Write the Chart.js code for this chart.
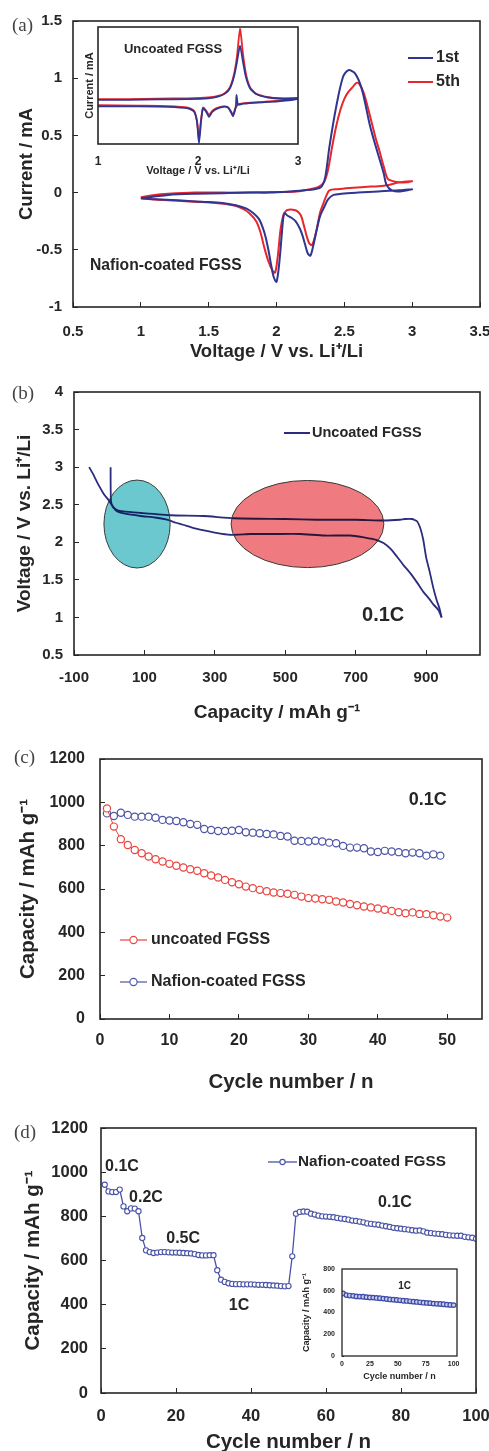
<!DOCTYPE html>
<html><head><meta charset="utf-8">
<script src="https://cdn.jsdelivr.net/npm/chart.js@4.4.0/dist/chart.umd.min.js"></script>
<style>
html,body{margin:0;padding:0;background:#fff;}
body{width:489px;height:1451px;position:relative;overflow:hidden;}
canvas{position:absolute;display:block;}
.lab{position:absolute;font-family:"Liberation Serif","DejaVu Serif",serif;font-size:19px;color:#444;line-height:20px;}
</style></head><body>
<canvas id="ca" width="489" height="365" style="left:0;top:0"></canvas>
<canvas id="caIn" width="232" height="160" style="left:78px;top:20px"></canvas>
<canvas id="cb" width="489" height="360" style="left:0;top:365px"></canvas>
<canvas id="cc" width="489" height="370" style="left:0;top:725px"></canvas>
<canvas id="cd" width="489" height="356" style="left:0;top:1095px"></canvas>
<canvas id="cdIn" width="170" height="122" style="left:300px;top:1262px"></canvas>
<div class="lab" style="left:12px;top:15px">(a)</div>
<div class="lab" style="left:12px;top:383px">(b)</div>
<div class="lab" style="left:14px;top:747px">(c)</div>
<div class="lab" style="left:14px;top:1122px">(d)</div>
<script>
// ===================== DATA =====================
// (a) Nafion-coated FGSS cyclic voltammetry, 1st and 5th cycle
const a1stV = [1.00,1.10,1.20,1.40,1.60,1.80,1.95,2.10,2.20,2.28,2.33,2.36,2.39,2.44,2.49,2.53,2.58,2.63,2.69,2.74,2.79,2.81,2.85,2.91,3.00,
               2.90,2.75,2.60,2.48,2.42,2.38,2.35,2.32,2.29,2.27,2.25,2.23,2.21,2.19,2.17,2.14,2.11,2.08,2.06,2.05,2.04,2.02,2.00,1.98,1.96,1.94,1.92,1.90,1.87,1.83,1.78,1.70,1.60,1.45,1.30,1.15,1.00];
const a1stI = [-0.05,-0.035,-0.02,-0.01,-0.005,0.0,0.0,0.01,0.02,0.03,0.05,0.14,0.40,0.75,1.01,1.07,1.04,0.90,0.58,0.37,0.17,0.07,0.02,0.01,0.03,
               0.02,0.01,0.0,-0.01,-0.02,-0.06,-0.13,-0.21,-0.36,-0.47,-0.55,-0.53,-0.45,-0.37,-0.31,-0.25,-0.22,-0.20,-0.18,-0.22,-0.35,-0.62,-0.78,-0.74,-0.63,-0.50,-0.39,-0.31,-0.23,-0.18,-0.14,-0.11,-0.09,-0.08,-0.07,-0.06,-0.05];
const a5thV = [1.00,1.10,1.20,1.40,1.60,1.80,2.00,2.15,2.25,2.31,2.35,2.38,2.41,2.44,2.47,2.50,2.53,2.56,2.59,2.61,2.64,2.67,2.70,2.73,2.76,2.79,2.82,2.86,2.91,2.96,3.00,
               2.91,2.79,2.65,2.54,2.45,2.39,2.37,2.35,2.32,2.30,2.28,2.26,2.24,2.22,2.20,2.18,2.15,2.12,2.09,2.07,2.05,2.03,2.01,1.99,1.97,1.94,1.91,1.88,1.85,1.80,1.75,1.68,1.55,1.40,1.25,1.10,1.00];
const a5thI = [-0.04,-0.02,-0.01,0.0,0.0,0.0,0.005,0.01,0.03,0.05,0.09,0.20,0.40,0.58,0.72,0.82,0.88,0.92,0.96,0.95,0.88,0.76,0.62,0.48,0.36,0.23,0.12,0.10,0.09,0.09,0.10,
               0.09,0.06,0.05,0.04,0.03,0.02,-0.02,-0.08,-0.18,-0.30,-0.40,-0.46,-0.44,-0.37,-0.28,-0.20,-0.16,-0.15,-0.15,-0.16,-0.20,-0.32,-0.55,-0.70,-0.68,-0.60,-0.48,-0.34,-0.25,-0.18,-0.14,-0.11,-0.09,-0.08,-0.07,-0.06,-0.05];
const aXTicks = [0.5,1,1.5,2,2.5,3,3.5];
const aYTicks = [-1,-0.5,0,0.5,1,1.5];
// (a) inset: uncoated FGSS (current in arbitrary units, no tick labels)
const aIn1stV = [1.0,1.3,1.6,1.9,2.1,2.2,2.27,2.32,2.36,2.39,2.42,2.45,2.48,2.52,2.58,2.7,2.85,3.0,
                 2.8,2.6,2.45,2.40,2.385,2.38,2.37,2.35,2.33,2.30,2.25,2.18,2.14,2.11,2.08,2.05,2.03,2.01,1.99,1.96,1.9,1.7,1.4,1.0];
const aIn1stI = [0.12,0.12,0.13,0.14,0.16,0.2,0.28,0.42,0.72,1.1,1.52,1.1,0.7,0.42,0.27,0.18,0.15,0.15,
                 0.08,0.05,0.02,0.0,0.25,0.0,-0.15,-0.30,-0.2,-0.08,-0.06,-0.12,-0.2,-0.32,-0.18,-0.1,-0.45,-1.0,-0.45,-0.18,-0.1,-0.06,-0.05,-0.05];
const aIn5thV = [1.0,1.3,1.6,1.9,2.1,2.2,2.27,2.32,2.36,2.39,2.42,2.45,2.48,2.52,2.58,2.7,2.85,3.0,
                 2.8,2.6,2.45,2.40,2.37,2.35,2.33,2.30,2.25,2.18,2.14,2.11,2.08,2.05,2.03,2.01,1.99,1.96,1.9,1.7,1.4,1.0];
const aIn5thI = [0.14,0.14,0.15,0.16,0.18,0.22,0.30,0.45,0.78,1.25,1.95,1.3,0.78,0.45,0.28,0.19,0.16,0.17,
                 0.1,0.06,0.03,0.0,-0.12,-0.27,-0.18,-0.07,-0.05,-0.1,-0.17,-0.27,-0.15,-0.08,-0.4,-0.88,-0.42,-0.16,-0.08,-0.04,-0.03,-0.02];
const aInXTicks = [1,2,3];

// (b) uncoated FGSS discharge / charge profile at 0.1C
const bDisCap = [-57,-45,-30,-15,0,12,23,45,89,130,164,190,212,240,269,300,343,400,470,542,610,684,720,741,760,779,800,817,835,855,875,892,910,921,935,944];
const bDisV   = [3.00,2.90,2.76,2.64,2.55,2.46,2.41,2.38,2.35,2.33,2.30,2.26,2.23,2.19,2.16,2.13,2.10,2.11,2.11,2.11,2.09,2.09,2.07,2.05,2.03,1.99,1.91,1.81,1.70,1.59,1.46,1.34,1.24,1.17,1.10,1.00];
const bChgCap = [944,938,930,920,911,900,892,884,874,860,840,826,779,700,589,500,353,269,175,90,40,22,10,5,4,4];
const bChgV   = [1.00,1.12,1.23,1.40,1.59,1.80,2.03,2.18,2.28,2.31,2.31,2.30,2.29,2.30,2.30,2.31,2.32,2.35,2.36,2.39,2.41,2.43,2.48,2.55,2.80,3.00];
const bXTicks = [-100,100,300,500,700,900];
const bYTicks = [0.5,1,1.5,2,2.5,3,3.5,4];
// highlighted plateau regions (ellipses): centre and half-axes in data units
const bEllCx = [79,563];
const bEllCy = [2.243,2.243];
const bEllRx = [94,217];
const bEllRy = [0.585,0.58];

// (c) cycling at 0.1C
const cCycU = [1,2,3,4,5,6,7,8,9,10,11,12,13,14,15,16,17,18,19,20,21,22,23,24,25,26,27,28,29,30,31,32,33,34,35,36,37,38,39,40,41,42,43,44,45,46,47,48,49,50];
const cUncoated = [972,888,830,803,780,765,750,737,727,716,707,699,691,684,673,662,653,642,631,622,611,604,596,590,584,581,578,573,565,558,556,553,550,542,538,531,525,519,515,510,504,499,493,488,492,485,484,479,473,468];
const cCycN = [1,2,3,4,5,6,7,8,9,10,11,12,13,14,15,16,17,18,19,20,21,22,23,24,25,26,27,28,29,30,31,32,33,34,35,36,37,38,39,40,41,42,43,44,45,46,47,48,49];
const cNafion = [949,937,952,942,934,934,934,929,919,916,914,908,900,896,877,872,868,868,869,872,862,860,857,854,852,845,842,823,822,819,823,819,814,811,799,791,791,788,773,771,776,773,770,765,768,765,754,760,754];
const cXTicks = [0,10,20,30,40,50];
const cYTicks = [0,200,400,600,800,1000,1200];

// (d) rate capability of Nafion-coated FGSS
const dCyc = [];
for (let i = 1; i <= 100; i++) dCyc.push(i);
const dNafion = [943,913,910,910,921,845,823,836,835,823,
                 702,646,638,634,636,638,638,637,636,636,635,634,633,632,629,625,623,623,624,624,
                 556,513,503,497,494,493,493,492,492,492,491,490,490,489,488,487,486,484,483,484,
                 619,812,820,822,821,812,808,803,800,799,798,796,793,790,788,785,781,779,776,773,
                 768,766,764,762,758,755,752,748,746,744,742,740,737,735,736,732,726,724,722,721,
                 719,716,714,713,712,712,707,705,703,698];
const dXTicks = [0,20,40,60,80,100];
const dYTicks = [0,200,400,600,800,1000,1200];
const dRateText = ['0.1C','0.2C','0.5C','1C','0.1C'];
const dRateX = [5.6,12,21.9,36.8,78.4];
const dRateY = [1023,883,697,394,860];
// (d) inset: long cycling at 1C
const dInCyc = [1,4,7,10,13,16,19,22,25,28,31,34,37,40,43,46,49,52,55,58,61,64,67,70,73,76,79,82,85,88,91,94,97,100];
const dInCap = [575,560,556,553,548,546,545,541,538,537,534,531,528,524,520,518,515,512,508,506,503,500,497,494,490,488,486,482,480,478,476,472,470,468];
const dInXTicks = [0,25,50,75,100];
const dInYTicks = [0,200,400,600,800];

// ===================== HELPERS =====================
const FONT = '"Liberation Sans", Arial, Helvetica, sans-serif';
const INK = '#262626';
Chart.defaults.font.family = FONT;
const zip = (xs, ys) => xs.map((v, i) => ({x: v, y: ys[i]}));

function axis(o) {
  return {
    type: 'linear', position: o.position, min: o.min, max: o.max,
    afterBuildTicks: s => { s.ticks = o.ticks.map(v => ({value: v})); },
    afterFit: s => {
      if (o.position === 'left') s.width = o.size; else s.height = o.size;
      s.paddingLeft = 0; s.paddingRight = 0; s.paddingTop = 0; s.paddingBottom = 0;
    },
    grid: {drawOnChartArea: false, drawTicks: o.tl !== 0, tickLength: o.tl, color: INK, lineWidth: 1},
    border: {display: false},
    ticks: {display: o.showTicks !== false, padding: o.pad, color: INK, autoSkip: false, maxRotation: 0,
            font: {family: FONT, size: o.tickSize, weight: 'bold'}, callback: v => String(v)},
    title: {display: true, text: o.title, color: INK,
            font: {family: FONT, size: o.titleSize, weight: 'bold', lineHeight: 1.2}, padding: o.titlePad}
  };
}

const framePlugin = {
  id: 'frame',
  beforeDatasetsDraw(chart, a, o) {
    if (!o.fill) return;
    const {ctx, chartArea: c} = chart;
    ctx.save(); ctx.fillStyle = o.fill; ctx.fillRect(c.left, c.top, c.right - c.left, c.bottom - c.top); ctx.restore();
  },
  afterDraw(chart, a, o) {
    const {ctx, chartArea: c} = chart;
    ctx.save(); ctx.strokeStyle = o.color || INK; ctx.lineWidth = o.width || 1.5;
    ctx.strokeRect(c.left, c.top, c.right - c.left, c.bottom - c.top); ctx.restore();
  }
};
const ellipsePlugin = {
  id: 'ellipses',
  afterDatasetsDraw(chart, a, o) {
    if (!o.cx) return;
    const {ctx, scales: {x, y}} = chart;
    o.cx.forEach((cx, i) => {
      const px = x.getPixelForValue(cx), py = y.getPixelForValue(o.cy[i]);
      const rx = Math.abs(x.getPixelForValue(cx + o.rx[i]) - px);
      const ry = Math.abs(y.getPixelForValue(o.cy[i] + o.ry[i]) - py);
      ctx.save();
      ctx.globalCompositeOperation = 'multiply';
      ctx.beginPath(); ctx.ellipse(px, py, rx, ry, 0, 0, Math.PI * 2);
      ctx.fillStyle = o.fills[i]; ctx.fill();
      ctx.globalCompositeOperation = 'source-over';
      ctx.lineWidth = 1; ctx.strokeStyle = '#3a3a3a'; ctx.stroke();
      ctx.restore();
    });
  }
};
const notesPlugin = {
  id: 'notes',
  afterDatasetsDraw(chart, a, o) {
    const {ctx, scales: {x, y}} = chart;
    (o.items || []).forEach(it => {
      ctx.save();
      ctx.font = it.font; ctx.fillStyle = it.color || INK;
      ctx.textAlign = it.align || 'center'; ctx.textBaseline = 'middle';
      ctx.fillText(it.text, x.getPixelForValue(it.x), y.getPixelForValue(it.y));
      ctx.restore();
    });
  }
};
const keysPlugin = {
  id: 'keys',
  afterDraw(chart, a, o) {
    const {ctx} = chart;
    (o.items || []).forEach(it => {
      const ds = chart.data.datasets[it.ds];
      ctx.save();
      ctx.strokeStyle = ds.borderColor; ctx.lineWidth = it.lw || ds.borderWidth || 1.5;
      ctx.beginPath(); ctx.moveTo(it.x0, it.y); ctx.lineTo(it.x1, it.y); ctx.stroke();
      if (it.marker) {
        ctx.beginPath(); ctx.arc((it.x0 + it.x1) / 2, it.y, it.marker, 0, Math.PI * 2);
        ctx.fillStyle = '#fff'; ctx.fill(); ctx.lineWidth = 1.1; ctx.stroke();
      }
      ctx.font = o.font; ctx.fillStyle = INK; ctx.textAlign = 'left'; ctx.textBaseline = 'middle';
      ctx.fillText(ds.label, it.tx, it.y);
      ctx.restore();
    });
  }
};

function baseOpts(p) {
  return {
    responsive: false, animation: false, devicePixelRatio: 1,
    layout: {padding: {left: 0, top: p.top, right: p.right, bottom: 0}},
    plugins: Object.assign({legend: {display: false}, tooltip: {enabled: false}}, p.plugins || {}),
    scales: {x: axis(Object.assign({position: 'bottom'}, p.x)), y: axis(Object.assign({position: 'left'}, p.y))}
  };
}
const PLUGS = [framePlugin, ellipsePlugin, notesPlugin, keysPlugin];

// ===================== (a) =====================
const BLUE_A = '#2f3590', RED_A = '#e8262b';
new Chart(document.getElementById('ca'), {
  type: 'scatter',
  data: {datasets: [
    {label: '1st', data: zip(a1stV, a1stI), showLine: true, borderColor: BLUE_A, borderWidth: 2, pointRadius: 0, tension: 0.3},
    {label: '5th', data: zip(a5thV, a5thI), showLine: true, borderColor: RED_A, borderWidth: 2, pointRadius: 0, tension: 0.3}
  ]},
  options: baseOpts({
    top: 21, right: 9,
    x: {min: 0.5, max: 3.5, ticks: aXTicks, size: 58, tl: -5, pad: 21, tickSize: 15,
        title: 'Voltage / V vs. Li\u207A/Li', titleSize: 18.5, titlePad: {top: 0, bottom: 1.9}},
    y: {min: -1, max: 1.5, ticks: aYTicks, size: 73, tl: -5, pad: 16, tickSize: 15,
        title: 'Current / mA', titleSize: 18.5, titlePad: {top: 15.9, bottom: 0}},
    plugins: {
      frame: {width: 1.6},
      notes: {items: [{text: 'Nafion-coated FGSS', x: 0.625, y: -0.64, align: 'left', font: 'bold 15.7px ' + FONT}]},
      keys: {font: 'bold 16px ' + FONT, items: [
        {ds: 0, x0: 408, x1: 433, y: 58, tx: 436, lw: 2},
        {ds: 1, x0: 408, x1: 433, y: 82, tx: 436, lw: 2}]}
    }
  }),
  plugins: PLUGS
});

// (a) inset
new Chart(document.getElementById('caIn'), {
  type: 'scatter',
  data: {datasets: [
    {label: '1st', data: zip(aIn1stV, aIn1stI), showLine: true, borderColor: BLUE_A, borderWidth: 1.8, pointRadius: 0, tension: 0.2},
    {label: '5th', data: zip(aIn5thV, aIn5thI), showLine: true, borderColor: RED_A, borderWidth: 1.8, pointRadius: 0, tension: 0.2}
  ]},
  options: baseOpts({
    top: 7, right: 12,
    x: {min: 1, max: 3, ticks: aInXTicks, size: 36, tl: 0, pad: 10.8, tickSize: 12,
        title: 'Voltage / V vs. Li\u207A/Li', titleSize: 11, titlePad: {top: 0, bottom: 2.4}},
    y: {min: -1.02, max: 2.0, ticks: [], showTicks: false, size: 20, tl: 0, pad: 0, tickSize: 10,
        title: 'Current / mA', titleSize: 11, titlePad: {top: 5.4, bottom: 0}},
    plugins: {
      frame: {width: 1.6, fill: '#fff'},
      notes: {items: [{text: 'Uncoated FGSS', x: 1.75, y: 1.41, font: 'bold 13px ' + FONT}]}
    }
  }),
  plugins: PLUGS
});

// ===================== (b) =====================
const NAVY_B = '#2b2c7e';
new Chart(document.getElementById('cb'), {
  type: 'scatter',
  data: {datasets: [
    {label: 'Uncoated FGSS', data: zip(bDisCap, bDisV), showLine: true, borderColor: NAVY_B, borderWidth: 1.8, pointRadius: 0, tension: 0.15},
    {label: 'Uncoated FGSS', data: zip(bChgCap, bChgV), showLine: true, borderColor: NAVY_B, borderWidth: 1.8, pointRadius: 0, tension: 0.15}
  ]},
  options: baseOpts({
    top: 27, right: 9,
    x: {min: -100, max: 1053, ticks: bXTicks, size: 70, tl: -5, pad: 19, tickSize: 15,
        title: 'Capacity / mAh g\u207B\u00B9', titleSize: 19, titlePad: {top: 0, bottom: 0.6}},
    y: {min: 0.5, max: 4, ticks: bYTicks, size: 74, tl: -5, pad: 16, tickSize: 15,
        title: 'Voltage / V vs. Li\u207A/Li', titleSize: 19, titlePad: {top: 13.6, bottom: 0}},
    plugins: {
      frame: {width: 1.6},
      ellipses: {cx: bEllCx, cy: bEllCy, rx: bEllRx, ry: bEllRy, fills: ['#6cc8cf', '#ef7b80']},
      notes: {items: [{text: '0.1C', x: 778, y: 1.03, font: 'bold 20px ' + FONT}]},
      keys: {font: 'bold 14.5px ' + FONT, items: [{ds: 0, x0: 284, x1: 310, y: 68, tx: 312, lw: 2}]}
    }
  }),
  plugins: PLUGS
});

// ===================== (c) =====================
const RED_C = '#e8453f', BLUE_C = '#4d54a6';
new Chart(document.getElementById('cc'), {
  type: 'scatter',
  data: {datasets: [
    {label: 'uncoated FGSS', data: zip(cCycU, cUncoated), showLine: true, borderColor: RED_C, borderWidth: 1,
     pointRadius: 3.6, pointBorderWidth: 1.2, pointBackgroundColor: '#fff', pointBorderColor: RED_C},
    {label: 'Nafion-coated FGSS', data: zip(cCycN, cNafion), showLine: true, borderColor: BLUE_C, borderWidth: 1,
     pointRadius: 3.6, pointBorderWidth: 1.2, pointBackgroundColor: '#fff', pointBorderColor: BLUE_C}
  ]},
  options: baseOpts({
    top: 34, right: 7,
    x: {min: 0, max: 55, ticks: cXTicks, size: 76, tl: -5, pad: 17, tickSize: 16,
        title: 'Cycle number / n', titleSize: 20.5, titlePad: {top: 0, bottom: 0.7}},
    y: {min: 0, max: 1200, ticks: cYTicks, size: 100, tl: -5, pad: 20, tickSize: 16,
        title: 'Capacity / mAh g\u207B\u00B9', titleSize: 20.5, titlePad: {top: 15.7, bottom: 0}},
    plugins: {
      frame: {width: 1.6},
      notes: {items: [{text: '0.1C', x: 47.2, y: 1011, font: 'bold 18px ' + FONT}]},
      keys: {font: 'bold 16px ' + FONT, items: [
        {ds: 0, x0: 120, x1: 147, y: 215, tx: 151, lw: 1.2, marker: 3.6},
        {ds: 1, x0: 120, x1: 147, y: 257, tx: 151, lw: 1.2, marker: 3.6}]}
    }
  }),
  plugins: PLUGS
});

// ===================== (d) =====================
const BLUE_D = '#4a53a6';
new Chart(document.getElementById('cd'), {
  type: 'scatter',
  data: {datasets: [
    {label: 'Nafion-coated FGSS', data: zip(dCyc, dNafion), showLine: true, borderColor: BLUE_D, borderWidth: 1.3,
     pointRadius: 2.6, pointBorderWidth: 1.1, pointBackgroundColor: '#fff', pointBorderColor: BLUE_D}
  ]},
  options: baseOpts({
    top: 33, right: 13,
    x: {min: 0, max: 100, ticks: dXTicks, size: 58, tl: -5, pad: 19, tickSize: 16.5,
        title: 'Cycle number / n', titleSize: 20.5, titlePad: {top: 0, bottom: -3.3}},
    y: {min: 0, max: 1200, ticks: dYTicks, size: 101, tl: -5, pad: 18, tickSize: 16.5,
        title: 'Capacity / mAh g\u207B\u00B9', titleSize: 20.5, titlePad: {top: 20.7, bottom: 0}},
    plugins: {
      frame: {width: 1.6},
      notes: {items: dRateText.map((t, i) => ({text: t, x: dRateX[i], y: dRateY[i], font: 'bold 16px ' + FONT}))},
      keys: {font: 'bold 15.3px ' + FONT, items: [{ds: 0, x0: 268, x1: 297, y: 67, tx: 298, lw: 1.3, marker: 2.6}]}
    }
  }),
  plugins: PLUGS
});

// (d) inset
new Chart(document.getElementById('cdIn'), {
  type: 'scatter',
  data: {datasets: [
    {label: '1C', data: zip(dInCyc, dInCap), showLine: true, borderColor: '#3c4aa8', borderWidth: 1,
     pointRadius: 2.3, pointBorderWidth: 1.2, pointBackgroundColor: '#c9cdea', pointBorderColor: '#3c4aa8'}
  ]},
  options: baseOpts({
    top: 7, right: 13,
    x: {min: 0, max: 103, ticks: dInXTicks, size: 28, tl: -2, pad: 5.8, tickSize: 7,
        title: 'Cycle number / n', titleSize: 9, titlePad: {top: 0, bottom: 1.6}},
    y: {min: 0, max: 800, ticks: dInYTicks, size: 42, tl: -2, pad: 9, tickSize: 7,
        title: 'Capacity / mAh g\u207B\u00B9', titleSize: 9, titlePad: {top: 1.6, bottom: 0}},
    plugins: {
      frame: {width: 1.3, fill: '#fff'},
      notes: {items: [{text: '1C', x: 56, y: 644, font: 'bold 10px ' + FONT}]}
    }
  }),
  plugins: PLUGS
});
</script>
</body></html>
